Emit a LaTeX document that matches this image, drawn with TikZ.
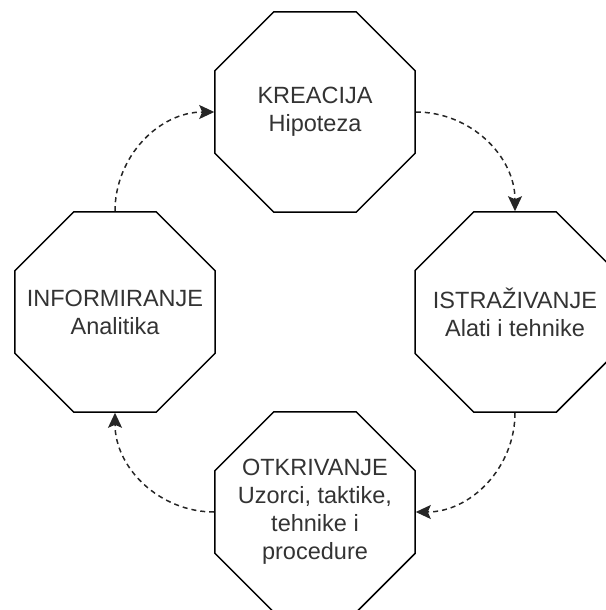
\documentclass[tikz,border=0pt]{standalone}
\usepackage{fontspec}
\setmainfont{Liberation Sans}
\usetikzlibrary{
  positioning,
  arrows.meta,
  shapes.geometric
}

\begin{document}
\begin{tikzpicture}[
    x=1pt,y=1pt,
    node distance=200pt,on grid,
    stageNode/.style={draw,regular polygon,regular polygon sides=8,
      minimum size=216.5pt,inner sep=0pt,line width=1.5pt},
    stageText/.style={align=center,inner sep=0pt,
      font=\fontsize{23.5}{28}\selectfont,text=black!80},
    loopArrow/.style={-{Stealth[length=15pt,width=14pt,inset=3pt]},
      dash pattern=on 5pt off 4pt,line width=1.5pt,black!85},
  ]
    \useasboundingbox (0,0) rectangle (605,-610);

    % stages of the cycle
    \node[stageNode, label={[stageText]center:KREACIJA\\Hipoteza}] (kreacija) at (315,-112) {};
    \node[stageNode, below right=200pt and 200pt of kreacija,
      label={[stageText]center:ISTRAŽIVANJE\\Alati i tehnike}] (istrazivanje) {};
    \node[stageNode, below left=200pt and 200pt of istrazivanje,
      label={[stageText]center:OTKRIVANJE\\Uzorci, taktike,\\tehnike i\\procedure}] (otkrivanje) {};
    \node[stageNode, above left=200pt and 200pt of otkrivanje,
      label={[stageText]center:INFORMIRANJE\\Analitika}] (informiranje) {};

    % dashed loop
    \draw[loopArrow] (kreacija.east) to[out=0,in=90] (istrazivanje.north);
    \draw[loopArrow] (istrazivanje.south) to[out=-90,in=0] (otkrivanje.east);
    \draw[loopArrow] (otkrivanje.west) to[out=180,in=-90] (informiranje.south);
    \draw[loopArrow] (informiranje.north) to[out=90,in=180] (kreacija.west);
  \end{tikzpicture}
\end{document}
